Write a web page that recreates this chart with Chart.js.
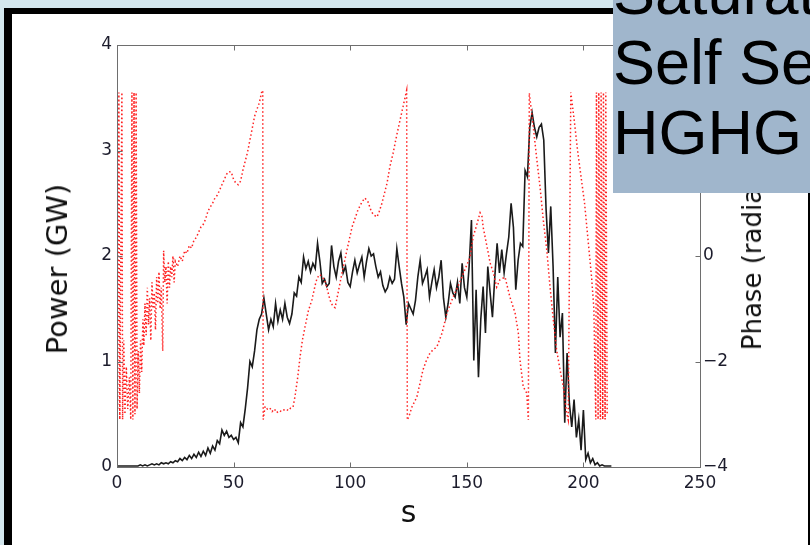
<!DOCTYPE html>
<html><head><meta charset="utf-8">
<script src="https://cdn.jsdelivr.net/npm/chart.js@4.4.1/dist/chart.umd.min.js"></script>
<style>
html,body{margin:0;padding:0;}
body{width:810px;height:545px;overflow:hidden;position:relative;background:#d4e7ee;}
#frame{position:absolute;left:4px;top:8px;width:796px;height:531px;background:#fff;border-left:8px solid #000;border-top:6px solid #000;border-right:2px solid #000;}
#c{position:absolute;left:0;top:0;}
#ltitle{position:absolute;left:57px;top:269px;transform:translate(-50%,-50%) rotate(-90deg);font:29px "DejaVu Sans",sans-serif;color:#111;white-space:nowrap;}
#rtitle{position:absolute;left:752px;top:249px;transform:translate(-50%,-50%) rotate(-90deg);font:26px "DejaVu Sans",sans-serif;color:#111;white-space:nowrap;}
#box{position:absolute;left:613px;top:0;width:197px;height:193px;background:#a0b6cc;overflow:hidden;}
#box div{position:absolute;left:0;top:-43px;font:63px "Liberation Sans",Arial,sans-serif;line-height:70px;color:#000;white-space:nowrap;}
</style></head>
<body>
<div id="frame"></div>
<canvas id="c" width="810" height="545"></canvas>
<div id="ltitle">Power (GW)</div>
<div id="rtitle">Phase (radians)</div>
<div id="box"><div>Saturated<br>Self Seeded<br>HGHG</div></div>
<script>
// Power (GW) vs s
const powerS = [0,1,2,3,4,5,6,7,8,9,10,11,12,13,14,15,16,17,18,19,20,21,22,23,24,25,26,27,28,29,30,31,32,33,34,35,36,37,38,39,40,41,42,43,44,45,46,47,48,49,50,51,52,53,54,55,56,57,58,59,60,61,62,63,64,65,66,67,68,69,70,71,72,73,74,75,76,77,78,79,80,81,82,83,84,85,86,87,88,89,90,91,92,93,94,95,96,97,98,99,100,101,102,103,104,105,106,107,108,109,110,111,112,113,114,115,116,117,118,119,120,121,122,123,124,125,126,127,128,129,130,131,132,133,134,135,136,137,138,139,140,141,142,143,144,145,146,147,148,149,150,151,152,153,154,155,156,157,158,159,160,161,162,163,164,165,166,167,168,169,170,171,172,173,174,175,176,177,178,179,180,181,182,183,184,185,186,187,188,189,190,191,192,193,194,195,196,197,198,199,200,201,202,203,204,205,206,207,208,209,210,211,212];
const powerGW = [0.01,0.01,0.01,0.01,0.01,0.01,0.01,0.01,0.01,0.01,0.02,0.01,0.02,0.01,0.02,0.03,0.02,0.03,0.02,0.04,
0.03,0.04,0.03,0.05,0.04,0.06,0.05,0.08,0.06,0.09,0.07,0.11,0.08,0.12,0.09,0.14,0.10,0.15,0.11,0.18,
0.13,0.20,0.16,0.25,0.22,0.35,0.30,0.34,0.28,0.30,0.26,0.28,0.23,0.42,0.38,0.55,0.75,1.00,0.95,1.10,
1.30,1.40,1.45,1.60,1.45,1.30,1.40,1.33,1.55,1.38,1.49,1.40,1.55,1.42,1.36,1.45,1.65,1.62,1.80,1.75,
1.99,1.88,1.95,1.85,1.93,1.88,2.12,1.95,1.74,1.78,1.71,1.74,2.10,1.90,1.80,1.95,2.03,1.84,1.90,1.75,
1.71,1.85,1.96,1.84,1.92,1.99,1.80,1.95,2.07,2.00,2.02,1.90,1.80,1.85,1.72,1.66,1.70,1.80,1.74,1.78,
2.07,1.90,1.74,1.61,1.35,1.55,1.50,1.45,1.58,1.80,1.96,1.74,1.80,1.87,1.61,1.75,1.87,1.70,1.80,1.96,
1.60,1.42,1.55,1.74,1.65,1.61,1.75,1.55,1.93,1.70,1.61,1.90,2.34,1.01,1.68,0.85,1.40,1.71,1.27,1.90,
1.65,1.42,1.80,2.12,1.84,2.06,1.84,2.02,2.18,2.50,2.27,1.68,1.96,2.12,2.09,2.81,2.75,3.22,3.36,3.22,
3.13,3.22,3.25,3.10,2.44,2.03,2.47,1.90,1.08,1.80,1.23,1.46,0.42,1.08,0.60,0.38,0.64,0.28,0.45,0.16,
0.54,0.07,0.13,0.04,0.08,0.02,0.04,0.01,0.02,0.01,0.01,0.01,0.01];
// Phase (radians) vs s
const phaseS = [0.3,0.8,1.2,1.7,2.1,2.4,2.9,3.4,4.0,4.6,5.3,5.9,6.4,6.8,7.3,7.7,8.2,8.6,9.1,9.6,10.1,10.6,11.1,
11.5,12.0,12.5,13.0,13.5,14.0,14.5,15.0,15.5,16.0,16.5,17.0,17.5,18.0,18.5,19.0,19.6,20.0,20.5,21.0,21.5,22.0,22.5,23.0,23.5,24.0,24.5,25.0,26.0,27.0,28.0,29.0,30.0,31.0,32.0,33.0,34.0,
35.0,36.0,37.0,38.0,39.0,40.0,41.0,42.0,43.0,44.0,45.0,46.0,47.0,48.0,49.0,50.0,51.0,52.0,53.0,54.0,55.0,56.0,57.0,58.0,59.0,60.0,61.0,62.0,62.5,
62.7,63.5,64.5,65.5,66.5,67.5,68.5,69.5,70.5,71.5,72.5,73.5,74.5,75.5,76.3,77.5,78.5,79.5,80.6,82.0,83.6,85.0,85.8,87.0,88.0,89.0,90.0,91.3,92.5,93.5,94.8,96.5,98.6,100.8,103.3,105.0,106.3,107.6,109.0,110.0,111.5,112.5,113.6,115.8,117.0,118.4,120.0,121.5,123.0,124.2,
124.5,125.5,126.5,128.6,130.0,131.2,132.5,134.2,135.5,137.2,139.4,141.5,144.1,146.0,147.9,151.4,152.7,154.0,155.7,156.5,157.0,158.7,160.0,161.4,162.8,164.2,166.4,168.5,170.7,172.1,172.8,174.2,175.7,176.4,
176.8,178.5,179.9,181.4,182.8,184.3,185.7,187.1,188.5,190.0,191.4,192.8,193.5,
194.6,196.0,197.5,199.0,200.5,202.0,203.5,204.5,205.3,205.6,206.3,206.6,207.3,207.6,208.3,208.6,209.3,209.6,210.2];
const phaseRad = [-2.9,3.1,-3.1,0.5,3.1,-3.1,-1.6,-3.0,-2.1,-2.9,-2.3,-3.1,3.1,-3.1,3.1,-3.0,3.1,-2.9,-1.8,-2.6,-1.6,-2.2,-1.2,
-1.7,-0.9,-1.5,-0.6,-1.3,-0.8,-1.6,-0.5,-1.0,-0.7,-1.4,-0.4,-0.9,-0.3,-1.0,-0.6,-1.8,0.1,-0.5,-0.2,-0.9,-0.1,-0.6,-0.2,-0.4,0.0,-0.5,-0.1,-0.2,0.0,-0.1,0.1,0.05,0.2,0.15,0.3,0.35,
0.45,0.55,0.6,0.7,0.85,0.93,1.0,1.1,1.15,1.25,1.35,1.45,1.55,1.6,1.59,1.45,1.38,1.35,1.42,1.63,1.8,1.97,2.2,2.42,2.65,2.78,2.9,3.1,3.14,
-3.1,-2.85,-2.9,-2.88,-2.95,-2.9,-2.97,-2.93,-2.95,-2.92,-2.9,-2.93,-2.88,-2.86,-2.67,-2.3,-1.91,-1.6,-1.35,-1.05,-0.83,-0.55,-0.42,-0.35,-0.4,-0.45,-0.6,-0.83,-0.95,-0.98,-0.7,-0.32,0.11,0.55,0.87,1.02,1.1,1.03,0.85,0.78,0.74,0.85,1.0,1.38,1.69,1.95,2.3,2.6,2.9,3.14,
-3.11,-3.0,-2.86,-2.67,-2.4,-2.16,-2.0,-1.84,-1.78,-1.72,-1.46,-1.08,-0.78,-0.6,-0.40,-0.02,0.36,0.55,0.82,0.75,0.55,0.17,-0.13,-0.32,-0.59,-0.45,-0.40,-0.78,-1.08,-1.46,-1.97,-2.48,-2.6,-3.11,
3.09,2.45,1.88,1.31,0.68,0.11,-0.59,-1.21,-1.78,-2.16,-2.48,-2.98,-3.11,
3.1,2.6,2.0,1.5,1.0,0.3,-0.4,-1.0,-3.1,3.1,-3.1,3.1,-3.1,3.1,-3.1,3.1,-3.1,3.1,-3.0];
const xTicks = {min:0, max:250, step:50};
const powerTicks = {min:0, max:4, step:1};
const phaseTicks = {min:-4, max:4, step:2};

const TICK_FONT = {family:'"DejaVu Sans", sans-serif', size:17};

const framePlugin = {
  id:'frame',
  afterDatasetsDraw(chart){
    const {ctx, chartArea:a, scales} = chart;
    const L = 5;
    ctx.save();
    ctx.strokeStyle = '#6e6e6e';
    ctx.lineWidth = 1;
    const l = Math.round(a.left)+0.5, r = Math.round(a.right)+0.5, t = Math.round(a.top)+0.5, b = Math.round(a.bottom)+0.5;
    ctx.strokeRect(l, t, r-l, b-t);
    ctx.beginPath();
    scales.x.ticks.forEach(tk=>{
      const px = Math.round(scales.x.getPixelForValue(tk.value))+0.5;
      ctx.moveTo(px,b); ctx.lineTo(px,b-L);
      ctx.moveTo(px,t); ctx.lineTo(px,t+L);
    });
    scales.y.ticks.forEach(tk=>{
      const py = Math.round(scales.y.getPixelForValue(tk.value))+0.5;
      ctx.moveTo(l,py); ctx.lineTo(l+L,py);
    });
    scales.y2.ticks.forEach(tk=>{
      const py = Math.round(scales.y2.getPixelForValue(tk.value))+0.5;
      ctx.moveTo(r,py); ctx.lineTo(r-L,py);
    });
    ctx.stroke();
    ctx.restore();
  }
};

new Chart(document.getElementById('c'), {
  type:'line',
  data:{datasets:[
    {label:'Phase', data: phaseS.map((s,i)=>({x:s,y:phaseRad[i]})), xAxisID:'x', yAxisID:'y2',
     borderColor:'#ff2020', borderWidth:1.5, borderDash:[1.5,2.5], pointRadius:0, fill:false, tension:0, order:0},
    {label:'Power', data: powerS.map((s,i)=>({x:s,y:powerGW[i]})), xAxisID:'x', yAxisID:'y',
     borderColor:'#1a1a1a', borderWidth:1.6, pointRadius:0, fill:false, tension:0, order:1}
  ]},
  options:{
    responsive:false, animation:false, devicePixelRatio:1,
    layout:{padding:{top:45,left:0,right:0,bottom:0}},
    plugins:{legend:{display:false}, tooltip:{enabled:false}},
    scales:{
      x:{type:'linear', position:'bottom', min:xTicks.min, max:xTicks.max,
         ticks:{stepSize:xTicks.step, color:'#1c1c2c', font:TICK_FONT, padding:6, maxRotation:0},
         grid:{display:false, drawTicks:false}, border:{display:false},
         title:{display:true, text:'s', color:'#111', font:{family:'"DejaVu Sans", sans-serif', size:30}, padding:{top:0,bottom:13}},
         afterFit(s){ s.height = 78; }},
      y:{type:'linear', position:'left', min:powerTicks.min, max:powerTicks.max,
         ticks:{stepSize:powerTicks.step, color:'#1c1c2c', font:TICK_FONT, padding:5},
         grid:{display:false, drawTicks:false}, border:{display:false},
         afterFit(s){ s.width = 117; }},
      y2:{type:'linear', position:'right', min:phaseTicks.min, max:phaseTicks.max,
         ticks:{stepSize:phaseTicks.step, color:'#1c1c2c', font:TICK_FONT, padding:3,
                callback:v=>String(v).replace('-','\u2212')},
         grid:{display:false, drawTicks:false}, border:{display:false},
         afterFit(s){ s.width = 110; }}
    }
  },
  plugins:[framePlugin]
});
</script>
</body></html>
